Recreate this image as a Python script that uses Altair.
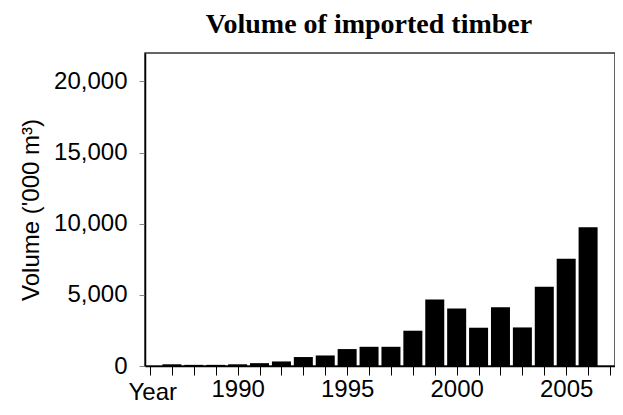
import altair as alt
import pandas as pd

years = list(range(1987, 2007))
volumes = [120, 80, 80, 120, 200, 320, 630, 740, 1190, 1350, 1350, 2480,
           4680, 4050, 2690, 4130, 2710, 5570, 7530, 9750]

x_domain = [1986, 2007]
y_domain = [0, 22000]
y_ticks = [0, 5000, 10000, 15000, 20000]
x_ticks = list(range(1986, 2008))

df = pd.DataFrame({"year": years, "volume": volumes})

chart = alt.Chart(df).mark_bar(width=19, color="black").encode(
    x=alt.X(
        "year:Q",
        scale=alt.Scale(domain=x_domain, nice=False, zero=False),
        axis=alt.Axis(
            values=x_ticks,
            format="d",
            labelExpr="datum.value % 5 == 0 ? datum.label : ''",
            title="Year",
            titleX=-17,
            titleY=33,
            titleAlign="left",
            titleBaseline="alphabetic",
            titleFont="Liberation Sans",
            titleFontSize=24,
            titleFontWeight="normal",
            titleColor="black",
            labelFont="Liberation Sans",
            labelFontSize=24,
            labelColor="black",
            labelPadding=2,
            tickSize=9,
            tickColor="black",
            domainColor="black",
            domainWidth=1.5,
            grid=False,
            labelOverlap=False,
        ),
    ),
    y=alt.Y(
        "volume:Q",
        scale=alt.Scale(domain=y_domain, nice=False),
        axis=alt.Axis(
            values=y_ticks,
            format=",d",
            title="Volume ('000 m³)",
            titleFont="Liberation Sans",
            titleFontSize=24,
            titleFontWeight="normal",
            titleColor="black",
            titlePadding=10,
            labelFont="Liberation Sans",
            labelFontSize=24,
            labelColor="black",
            labelPadding=12,
            tickSize=6,
            tickColor="#888",
            domainColor="black",
            domainWidth=1.5,
            grid=False,
        ),
    ),
).properties(
    width=470,
    height=313,
    title=alt.TitleParams(
        "Volume of imported timber",
        font="Liberation Serif",
        fontSize=28,
        fontWeight="bold",
        color="black",
        anchor="middle",
        dx=-11,
        offset=14,
    ),
    autosize=alt.AutoSizeParams(type="none"),
    padding={"left": 137, "top": 45, "right": 0, "bottom": 39},
).configure_view(
    stroke="#333", strokeWidth=1.5
)

chart.save("out.html", embed_options={"renderer": "svg", "actions": False})
